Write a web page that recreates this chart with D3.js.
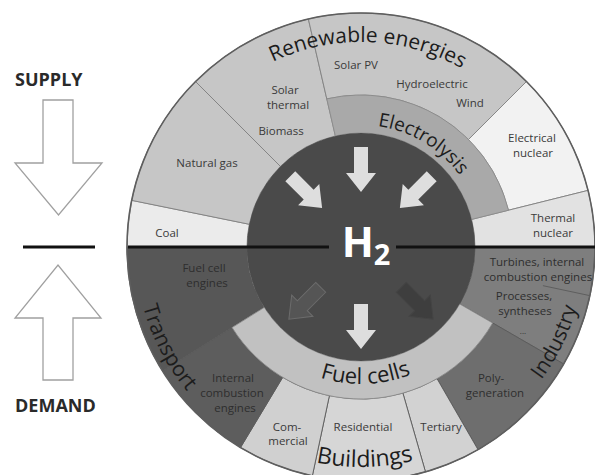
<!DOCTYPE html>
<html><head><meta charset="utf-8">
<script src="https://cdn.jsdelivr.net/npm/d3@7"></script>
<style>
body{margin:0;background:#fff}
svg{display:block}
text{font-family:"Open Sans","Noto Sans",sans-serif}
</style>
</head><body>
<svg id="chart" width="595" height="475"></svg>
<script>
// ---------------- DATA ----------------
// Supply side (upper half), angular extents in degrees (0 = top, clockwise)
const supplyNames  = ["Coal","Natural gas","Solar thermal / Biomass","Solar PV / Hydroelectric / Wind","Electrical nuclear","Thermal nuclear"];
const supplyStart  = [-90, -78.5, -45, -13, 45, 76];
const supplyEnd    = [-78.5, -45, -13, 45, 76, 90];
const supplyDirect = [true, true, true, false, false, true];   // reaches H2 without conversion ring
// Demand side (lower half)
const demandNames  = ["Turbines / Processes","Poly-generation","Tertiary","Residential","Commercial","Internal combustion engines","Fuel cell engines"];
const demandStart  = [90, 120, 150, 164, 192, 211, 238];
const demandEnd    = [120, 150, 164, 192, 211, 238, 270];
const demandDirect = [true, false, false, false, false, false, true];
// Conversion rings
const converterNames = ["Electrolysis","Fuel cells"];
const converterStart = [-13, 120];
const converterEnd   = [76, 238];
// Sub-division inside the Industry sector
const industrySplit = [102];
// Curved group labels and their centre angle
const groupNames  = ["Renewable energies","Electrolysis","Fuel cells","Transport","Buildings","Industry"];
const groupAngles = [2, 31, 178, 242.5, 179, 116];
// Flow arrows in the H2 core (angle, direction)
const arrowAngles = [-45, 0, 45, 135, 180, 225];
const arrowInward = [true, true, true, false, false, false];
// Item labels (each entry = lines of one label)
const itemLabels = [
  ["Solar PV"],["Hydroelectric"],["Wind"],["Solar","thermal"],["Biomass"],["Natural gas"],["Coal"],
  ["Electrical","nuclear"],["Thermal","nuclear"],["Fuel cell","engines"],["Internal","combustion","engines"],
  ["Com-","mercial"],["Residential"],["Tertiary"],["Poly-","generation"],["Processes,","syntheses"],["..."],
  ["Turbines, internal","combustion engines"]
];
const sideLabels = ["SUPPLY","DEMAND"];

// ---------------- LAYOUT / STYLE ----------------
const W = 595, H = 475;
const cx = 361, cy = 247;
const R = 234, rRing = 152, rCore = 114;
const supplyFill = ["#ebebeb","#c6c6c6","#c6c6c6","#c6c6c6","#f2f2f2","#e2e2e2"];
const demandFill = ["#7e7e7e","#6e6e6e","#d2d2d2","#d6d6d6","#d0d0d0","#5d5d5d","#575757"];
const converterFill = ["#a9a9a9","#c1c1c1"];
const groupRadius = [205, 122, 137, 226, 220, 224];
const groupSpan   = [62, 52, 62, 48, 42, 44];
const groupSize   = [21, 19, 22, 21, 23, 21];
const groupTop    = [true, true, false, false, false, false];
const itemPos = [
  [[356,65]],[[432,84]],[[470,103]],[[285,90],[288,105]],[[281,131]],[[207,163]],[[167,233]],
  [[532,138],[533,153]],[[553,218],[553,233]],[[204,268],[207,283]],[[233,378],[232,393],[235,408]],
  [[287,427],[288,441]],[[363,427]],[[441,427]],[[491,378],[495,393]],[[524,296],[525,311]],[[523,330]],
  [[537,262],[538,277]]
];
const itemSize = [11.5,11.5,11.5,11.5,11.5,11.5,11.5,11.5,11.5,11.5,11.5,11.5,11.5,11.5,11.5,11.5,8,11.5];
const itemColor = ["#3a3a3a","#3a3a3a","#3a3a3a","#3a3a3a","#3a3a3a","#3a3a3a","#3a3a3a",
  "#3a3a3a","#3a3a3a","#2e2e2e","#2e2e2e","#3a3a3a","#3a3a3a","#3a3a3a","#2e2e2e","#2e2e2e","#2e2e2e","#2e2e2e"];

const rad = d => d * Math.PI / 180;
const polar = (deg, r) => [cx + r * Math.sin(rad(deg)), cy - r * Math.cos(rad(deg))];

const svg = d3.select("#chart");
const g = svg.append("g");
const arc = d3.arc();

// supply segments
g.selectAll("path.supply").data(supplyNames).join("path")
  .attr("class","supply")
  .attr("d",(d,i)=>arc({innerRadius: supplyDirect[i]?rCore:rRing, outerRadius:R,
        startAngle:rad(supplyStart[i]), endAngle:rad(supplyEnd[i])}))
  .attr("transform",`translate(${cx},${cy})`)
  .attr("fill",(d,i)=>supplyFill[i]).attr("stroke","#808080").attr("stroke-width",0.9);

// demand segments
g.selectAll("path.demand").data(demandNames).join("path")
  .attr("class","demand")
  .attr("d",(d,i)=>arc({innerRadius: demandDirect[i]?rCore:rRing, outerRadius:R,
        startAngle:rad(demandStart[i]), endAngle:rad(demandEnd[i])}))
  .attr("transform",`translate(${cx},${cy})`)
  .attr("fill",(d,i)=>demandFill[i]).attr("stroke","#5a5a5a").attr("stroke-width",0.9);

// industry split line (partial)
industrySplit.forEach(a=>{
  const p0 = polar(a, 186), p1 = polar(a, R);
  g.append("line").attr("x1",p0[0]).attr("y1",p0[1]).attr("x2",p1[0]).attr("y2",p1[1])
    .attr("stroke","#5a5a5a").attr("stroke-width",0.9);
});

// converter rings
g.selectAll("path.conv").data(converterNames).join("path")
  .attr("class","conv")
  .attr("d",(d,i)=>arc({innerRadius:rCore, outerRadius:rRing,
        startAngle:rad(converterStart[i]), endAngle:rad(converterEnd[i])}))
  .attr("transform",`translate(${cx},${cy})`)
  .attr("fill",(d,i)=>converterFill[i]).attr("stroke","#888").attr("stroke-width",0.8);

// core
g.append("circle").attr("cx",cx).attr("cy",cy).attr("r",rCore).attr("fill","#4a4a4a");
// outer rim
g.append("circle").attr("cx",cx).attr("cy",cy).attr("r",R).attr("fill","none")
  .attr("stroke","#5e5e5e").attr("stroke-width",1.6);

// arrows in the core
function arrowPath(L, w, hw, hl){
  return `M0,${-w/2}L${L-hl},${-w/2}L${L-hl},${-hw/2}L${L},0L${L-hl},${hw/2}L${L-hl},${w/2}L0,${w/2}Z`;
}
const arrowFill = ["#dedede","#dedede","#dedede","#3e3e3e","#dedede","#555555"];
const arrowStroke = ["none","none","none","#444","none","#6c6c6c"];
arrowAngles.forEach((a,i)=>{
  const from = arrowInward[i] ? polar(a,100) : polar(a,57);
  const to   = arrowInward[i] ? polar(a,55)  : polar(a,102);
  const ang = Math.atan2(to[1]-from[1], to[0]-from[0]) * 180/Math.PI;
  g.append("path").attr("d",arrowPath(45,14,30,19))
    .attr("transform",`translate(${from[0]},${from[1]}) rotate(${ang})`)
    .attr("fill",arrowFill[i])
    .attr("stroke", arrowStroke[i]).attr("stroke-width",1);
});

// horizontal supply/demand divider
g.append("line").attr("x1",cx-R+1).attr("x2",329).attr("y1",cy).attr("y2",cy)
  .attr("stroke","#111").attr("stroke-width",3);
g.append("line").attr("x1",396).attr("x2",W).attr("y1",cy).attr("y2",cy)
  .attr("stroke","#111").attr("stroke-width",3);

// H2 label
const h2 = g.append("text").attr("x",366).attr("y",257).attr("text-anchor","middle")
  .attr("fill","#fff").attr("font-weight","bold");
h2.append("tspan").attr("font-size",42).text("H");
h2.append("tspan").attr("font-size",29).attr("dy",8).text("2");

// curved group labels
const defs = svg.append("defs");
groupNames.forEach((name,i)=>{
  const c = groupAngles[i], s = groupSpan[i], r = groupRadius[i];
  const a0 = groupTop[i] ? c - s : c + s;
  const a1 = groupTop[i] ? c + s : c - s;
  const p0 = polar(a0,r), p1 = polar(a1,r);
  const sweep = a1 > a0 ? 1 : 0;
  defs.append("path").attr("id","gp"+i)
    .attr("d",`M${p0[0]},${p0[1]}A${r},${r} 0 0 ${sweep} ${p1[0]},${p1[1]}`);
  g.append("text").attr("font-size",groupSize[i]).attr("fill","#1c1c1c")
    .append("textPath").attr("href","#gp"+i).attr("startOffset","50%")
    .attr("text-anchor","middle").text(name);
});

// item labels
itemLabels.forEach((lines,i)=>{
  lines.forEach((ln,j)=>{
    g.append("text").attr("x",itemPos[i][j][0]).attr("y",itemPos[i][j][1]+4)
      .attr("text-anchor","middle").attr("font-size",itemSize[i]).attr("fill",itemColor[i]).text(ln);
  });
});

// left SUPPLY / DEMAND arrows
const left = svg.append("g");
left.append("text").attr("x",15).attr("y",86).attr("font-size",18).attr("font-weight","bold")
  .attr("fill","#2a2a2a").text(sideLabels[0]);
left.append("text").attr("x",15).attr("y",412).attr("font-size",18).attr("font-weight","bold")
  .attr("fill","#2a2a2a").text(sideLabels[1]);
left.append("path").attr("d","M43,100L73,100L73,163L102,163L58.5,215L15,163L43,163Z")
  .attr("fill","#fff").attr("stroke","#a0a0a0").attr("stroke-width",1.3);
left.append("path").attr("d","M43,380L73,380L73,318L101,318L58,265L15,318L43,318Z")
  .attr("fill","#fff").attr("stroke","#a0a0a0").attr("stroke-width",1.3);
left.append("line").attr("x1",23).attr("x2",95).attr("y1",cy).attr("y2",cy)
  .attr("stroke","#111").attr("stroke-width",3);
</script>
</body></html>
